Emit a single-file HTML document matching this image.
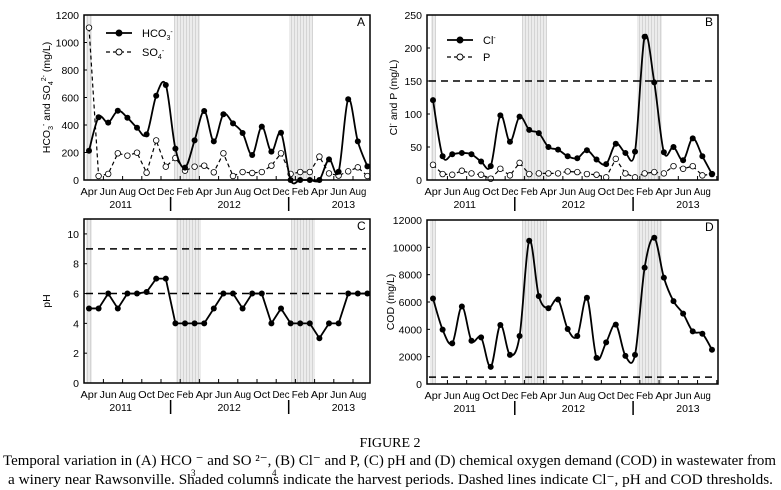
<!DOCTYPE html>
<html><head><meta charset="utf-8">
<style>
html,body{margin:0;padding:0;background:#fff;}
svg{display:block;font-family:"Liberation Sans",Arial,sans-serif;}
</style></head>
<body>
<svg id="fig" width="781" height="490" viewBox="0 0 781 490" xmlns="http://www.w3.org/2000/svg">
<defs>
<pattern id="stripes" width="3" height="3" patternUnits="userSpaceOnUse">
<rect width="3" height="3" fill="#ececec"/><rect width="1" height="3" fill="#d4d4d4"/>
</pattern>
</defs>
<g id="layer"></g>
<text x="390" y="447" text-anchor="middle" font-family="Liberation Serif, serif" font-size="14">FIGURE 2</text>
<text x="3" y="465" textLength="773" lengthAdjust="spacingAndGlyphs" font-family="Liberation Serif, serif" font-size="15">Temporal variation in (A) HCO  ⁻ and SO  ²⁻, (B) Cl⁻ and P, (C) pH and (D) chemical oxygen demand (COD) in wastewater from</text>
<text x="8" y="484" textLength="765" lengthAdjust="spacingAndGlyphs" font-family="Liberation Serif, serif" font-size="15">a winery near Rawsonville. Shaded columns indicate the harvest periods. Dashed lines indicate Cl⁻, pH and COD thresholds.</text>
<text x="191" y="476" font-family="Liberation Serif, serif" font-size="9">3</text>
<text x="272" y="476" font-family="Liberation Serif, serif" font-size="9">4</text>
</svg>
<script>
// ---- data ----
const months = ["Apr","Jun","Aug","Oct","Dec","Feb","Apr","Jun","Aug","Oct","Dec","Feb","Apr","Jun","Aug"];
const years = ["2011","2012","2013"];
const hco3 = [213,456,417,504,453,380,332,613,691,228,90,288,502,281,478,412,342,182,388,206,344,0,0,0,0,150,60,587,281,99];
const so4 = [1108,29,44,194,177,199,53,288,97,160,68,97,104,56,194,29,58,51,58,104,194,44,58,58,170,48,32,63,92,29];
const cl = [121,36,39,41,39,28,21,98,58,96,76,71,50,46,36,33,45,31,24,55,41,43,217,148,42,50,30,63,36,9];
const pP = [23,9,8,14,10,8,2,17,7,26,9,10,10,10,13,12,9,8,4,32,10,4,10,12,10,21,17,21,7,9];
const ph = [5,5,6,5,6,6,6.1,7,7,4,4,4,4,5,6,6,5,6,6,4,5,4,4,4,3,4,4,6,6,6];
const cod = [6258,3975,2969,5669,3166,3411,1252,4319,2135,3509,10479,6429,5546,6184,4024,3509,6307,1914,3043,4344,2061,2135,8515,10699,7779,6061,5153,3853,3681,2503];
const ticksA = [0,200,400,600,800,1000,1200];
const ticksB = [0,50,100,150,200,250];
const ticksC = [0,2,4,6,8,10];
const ticksD = [0,2000,4000,6000,8000,10000,12000];
const clLimit = 150, phLimits = [9,6], codLimit = 500;

const NS="http://www.w3.org/2000/svg";
const layer=document.getElementById('layer');
function mk(tag,attrs,parent){const e=document.createElementNS(NS,tag);for(const k in attrs)e.setAttribute(k,attrs[k]);(parent||layer).appendChild(e);return e;}

function smoothPath(pts){
  let d="M"+pts[0][0]+","+pts[0][1];
  for(let i=0;i<pts.length-1;i++){
    const p0=pts[i-1]||pts[i],p1=pts[i],p2=pts[i+1],p3=pts[i+2]||p2;
    const t=0.5/3;
    const c1=[p1[0]+(p2[0]-p0[0])*t,p1[1]+(p2[1]-p0[1])*t];
    const c2=[p2[0]-(p3[0]-p1[0])*t,p2[1]-(p3[1]-p1[1])*t];
    d+=" C"+c1[0]+","+c1[1]+" "+c2[0]+","+c2[1]+" "+p2[0]+","+p2[1];
  }
  return d;
}
function linePath(pts){return pts.map((p,i)=>(i?"L":"M")+p[0]+","+p[1]).join(" ");}

function panel(cfg){
  const g=mk('g',{});
  
  
  const {L,R,T,B,x0,dx,ymax}=cfg;
  const X=i=>x0+i*dx;
  const Y=v=>B-(v/ymax)*(B-T);
  cfg.shades.forEach(s=>{
    const r=mk('rect',{x:s[0],y:T,width:s[1]-s[0],height:B-T,fill:'url(#stripes)'},g);
    
    
  });
  cfg.limits.forEach(v=>{
    const l=mk('line',{x1:L+2,x2:R-4,y1:Y(v),y2:Y(v),stroke:'#000','stroke-width':1.5,'stroke-dasharray':'7,5'},g);
    
    
  });
  cfg.ticks.forEach(v=>{
    mk('line',{x1:L,x2:L+3,y1:Y(v),y2:Y(v),stroke:'#000'},g);
    const t=mk('text',{x:L-5,y:Y(v)+4,'text-anchor':'end','font-size':10.5},g);
    t.textContent=v;
    
    
  });
  for(let k=0;k<15;k++){
    const xt=X(1.5+2*k);
    if(xt<R) mk('line',{x1:xt,x2:xt,y1:B,y2:B-4,stroke:'#000'},g);
    const t=mk('text',{x:X(2*k),y:B+15,'text-anchor':'middle','font-size':10.5,textLength:17,lengthAdjust:'spacingAndGlyphs'},g);
    t.textContent=months[k];
    
    
  }
  [X(3.3),X(14.6),X(26.5)].forEach((xx,i)=>{
    const t=mk('text',{x:xx,y:B+28,'text-anchor':'middle','font-size':10.5},g);
    t.textContent=years[i];
    
    
  });
  [X(8.5),X(20.8)].forEach(xx=>mk('line',{x1:xx,x2:xx,y1:B+17,y2:B+31,stroke:'#000','stroke-width':1.5},g));
  cfg.series.forEach(s=>{
    const pts=s.data.map((v,i)=>[X(i),Y(v)]);
    const p=mk('path',{d:s.smooth?smoothPath(pts):linePath(pts),fill:'none',stroke:'#000','stroke-width':s.dash?1.2:1.8,'stroke-dasharray':s.dash?'4,3':'none'},g);
    
    
    pts.forEach(q=>{
      const c=mk('circle',{cx:q[0],cy:q[1],r:s.open?2.8:3,fill:s.open?'#fff':'#000',stroke:'#000','stroke-width':s.open?0.8:0},g);
      
      
    });
  });
  const f=mk('rect',{x:L,y:T,width:R-L,height:B-T,fill:'none',stroke:'#000','stroke-width':1.5},g);
  
  
  const lab=mk('text',{x:R-13,y:T+11,'font-size':12},g);
  lab.textContent=cfg.letter;
  
  
  const yt=mk('text',{x:0,y:0,'text-anchor':'middle','font-size':10.5,transform:`translate(${cfg.ytx},${(T+B)/2}) rotate(-90)`},g);
  yt.innerHTML=cfg.ytitle;
  
  
  (cfg.legend||[]).forEach(e=>{
    const lg=mk('g',{},g);
    
    
    mk('line',{x1:e.x,x2:e.x+26,y1:e.y,y2:e.y,stroke:'#000','stroke-width':e.open?1.2:1.8,'stroke-dasharray':e.open?'4,3':'none'},lg);
    mk('circle',{cx:e.x+13,cy:e.y,r:3,fill:e.open?'#fff':'#000',stroke:'#000','stroke-width':0.9},lg);
    const t=mk('text',{x:e.x+36,y:e.y+4,'font-size':11},lg);
    t.innerHTML=e.label;
  });
}

panel({name:'panel-a-hco3-so4',letter:'A',L:84,R:370,T:15,B:180,x0:89,dx:9.6,ymax:1200,ticks:ticksA,limits:[],
  shades:[[86,92],[174,200],[289,313]],ytx:50,
  ytitle:'HCO<tspan font-size="7" dy="3">3</tspan><tspan font-size="7" dy="-7">-</tspan><tspan dy="4"> and SO</tspan><tspan font-size="7" dy="3">4</tspan><tspan font-size="7" dy="-7">2-</tspan><tspan dy="4"> (mg/L)</tspan>',
  series:[{name:'so4',data:so4,open:true,dash:true,smooth:false},{name:'hco3',data:hco3,smooth:true}],
  legend:[{x:106,y:33,label:'HCO<tspan font-size="7" dy="3">3</tspan><tspan font-size="7" dy="-6">-</tspan>'},{x:106,y:52,open:true,label:'SO<tspan font-size="7" dy="3">4</tspan><tspan font-size="7" dy="-6">-</tspan>'}]});
panel({name:'panel-b-cl-p',letter:'B',L:427,R:718,T:15,B:180,x0:433,dx:9.62,ymax:250,ticks:ticksB,limits:[clLimit],
  shades:[[431,436],[522,547],[637,662]],ytx:397,
  ytitle:'Cl<tspan font-size="7" dy="-4">-</tspan><tspan dy="4"> and P (mg/L)</tspan>',
  series:[{name:'p',data:pP,open:true,dash:true,smooth:false},{name:'cl',data:cl,smooth:true}],
  legend:[{x:447,y:40,label:'Cl<tspan font-size="7" dy="-4">-</tspan>'},{x:447,y:57,open:true,label:'P'}]});
panel({name:'panel-c-ph',letter:'C',L:84,R:370,T:219,B:383,x0:89,dx:9.6,ymax:11,ticks:ticksC,limits:phLimits,
  shades:[[86,92],[176,201],[291,315]],ytx:50,ytitle:'pH',
  series:[{name:'ph',data:ph,smooth:false}]});
panel({name:'panel-d-cod',letter:'D',L:427,R:718,T:220,B:384,x0:433,dx:9.62,ymax:12000,ticks:ticksD,limits:[codLimit],
  shades:[[430,436],[522,547],[637,662]],ytx:394,ytitle:'COD (mg/L)',
  series:[{name:'cod',data:cod,smooth:true}]});
</script>
</body></html>
